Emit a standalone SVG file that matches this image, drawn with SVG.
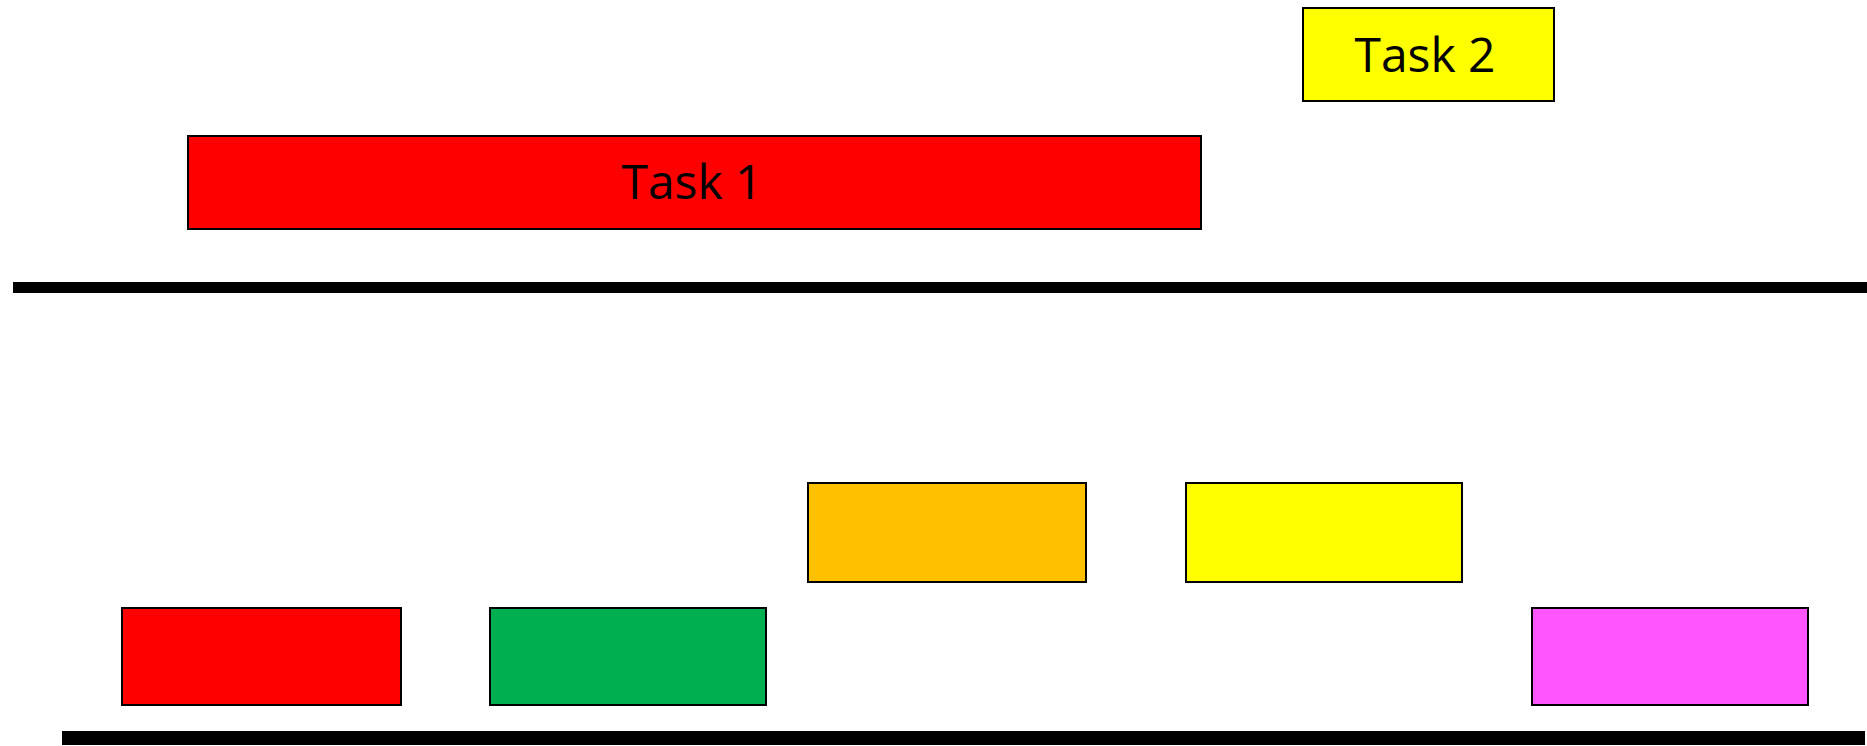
<svg xmlns="http://www.w3.org/2000/svg" width="1867" height="746" viewBox="0 0 1867 746">
<style>
.box{stroke:#000;stroke-width:2}
.lbl{font-family:"Open Sans","Liberation Sans",Arial,sans-serif;font-size:48px;fill:#000;text-anchor:middle}
.axis{fill:#000}
</style>
<rect width="1867" height="746" fill="#fff"/>
<g id="task2"><rect class="box" x="1303" y="8" width="251" height="93" fill="#FFFF00"/><text class="lbl" x="1425" y="72">Task 2</text></g>
<g id="task1"><rect class="box" x="188" y="136" width="1013" height="93" fill="#FF0000"/><text class="lbl" x="692" y="199">Task 1</text></g>
<g id="axis1"><rect class="axis" x="13" y="282" width="1854" height="11"/></g>
<g id="orange"><rect class="box" x="808" y="483" width="278" height="99" fill="#FFC000"/></g>
<g id="yellow"><rect class="box" x="1186" y="483" width="276" height="99" fill="#FFFF00"/></g>
<g id="red"><rect class="box" x="122" y="608" width="279" height="97" fill="#FF0000"/></g>
<g id="green"><rect class="box" x="490" y="608" width="276" height="97" fill="#00B050"/></g>
<g id="magenta"><rect class="box" x="1532" y="608" width="276" height="97" fill="#FF55FF"/></g>
<g id="axis2"><rect class="axis" x="62" y="731" width="1803" height="14"/></g>
<g id="connectors"></g>
</svg>
